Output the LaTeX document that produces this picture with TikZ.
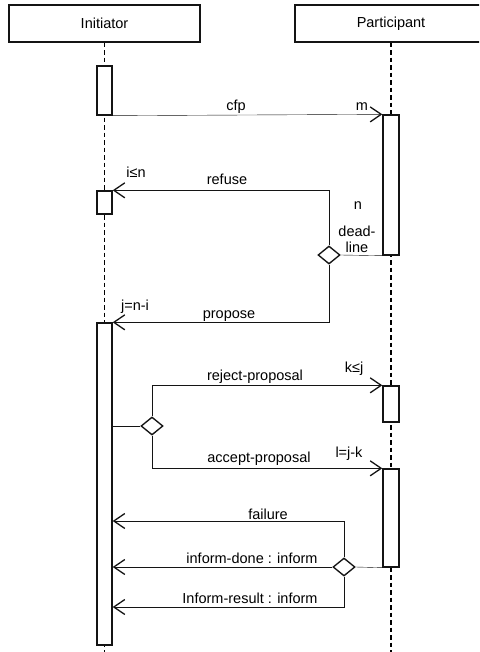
\documentclass[tikz,border=0pt]{standalone}
\usepackage{fontspec}
\setmainfont{Liberation Sans}
\usepackage{xcolor}
\definecolor{seqline}{rgb}{0.08, 0.08, 0.08}
\usepackage{tikz}
\usetikzlibrary{arrows.meta,shapes.geometric,backgrounds}

\begin{document}
\begin{tikzpicture}[x=1pt,y=-1pt,line width=1.35pt,draw=seqline,
  font=\fontsize{14.5}{16}\selectfont,
  head/.style={draw,fill=white,rectangle,minimum width=191pt,minimum height=37pt,inner sep=0pt},
  act/.style={draw,fill=white,rectangle,minimum width=15pt,inner sep=0pt},
  choice/.style={draw,fill=white,diamond,minimum width=22pt,minimum height=18pt,inner sep=0pt},
  msg/.style={-{Straight Barb[length=11pt,width=15pt,line width=1.3pt]}},
  lbl/.style={anchor=base,inner sep=0pt},
  life/.style={line width=1.1pt,dash pattern=on 4.5pt off 3pt}]
  \useasboundingbox (0,0) rectangle (479,652);
  \clip (0,0) rectangle (479,652);

  \node[head] (ini) at (104.5,23.5) {Initiator};
  \node[head,minimum width=192pt] (par) at (391,23.5) {Participant};

  % activations
  \node[act,minimum height=49pt] (iact1) at (104.5,90.5) {};
  \node[act,minimum height=23pt] (iact2) at (104.5,202.5) {};
  \node[act,minimum height=322pt] (iact3) at (104.5,484) {};
  \node[act,minimum width=16pt,minimum height=140pt] (pact1) at (391,185) {};
  \node[act,minimum width=16pt,minimum height=36pt] (pact2) at (391,404) {};
  \node[act,minimum width=16pt,minimum height=98pt] (pact3) at (391,518) {};

  \node[choice] (dl) at (329,255) {};
  \node[choice] (ans) at (152,426) {};
  \node[choice] (res) at (344,567) {};

  \coordinate (failend) at (iact3.east |- 0,521);
  \coordinate (resend) at (iact3.east |- 0,607);

  \begin{pgfonlayer}{background}
    \draw[life] (ini.south) -- (ini.south |- 0,652);
    \draw[life] (par.south -| pact1.center) -- (pact1.center |- 0,652);
  \end{pgfonlayer}

  \draw[msg] (iact1.south east) -- (pact1.north west);
  \draw[msg] (dl.north) |- (iact2.north east);
  \draw (pact1.south west) -- (dl.east);
  \draw[msg] (dl.south) |- (iact3.north east);

  \draw (iact3.east |- ans.west) -- (ans.west);
  \draw[msg] (ans.north) |- (pact2.north west);
  \draw[msg] (ans.south) |- (pact3.north west);

  \draw (pact3.south west) -- (res.east);
  \draw[msg] (res.north) |- (failend);
  \draw[msg] (res.west) -- (iact3.east |- res.west);
  \draw[msg] (res.south) |- (resend);

  % labels
  \node[lbl] (cfplbl) at (236,111) {cfp};
  \node[lbl] (mlbl) at (362,111) {m};
  \node[lbl] (ilbl) at (136,178) {i≤n};
  \node[lbl] (refuselbl) at (227,185) {refuse};
  \node[lbl] (nlbl) at (358,209) {n};
  \node[inner sep=0pt,align=center] (dllbl) at (357,239) {dead-\\line};
  \node[lbl] (jlbl) at (135,310) {j=n-i};
  \node[lbl] (proposelbl) at (229,318) {propose};
  \node[lbl] (klbl) at (354,372) {k≤j};
  \node[lbl] (rejectlbl) at (255,380) {reject-proposal};
  \node[lbl] (llbl) at (349,457) {l=j-k};
  \node[lbl] (acceptlbl) at (259,462) {accept-proposal};
  \node[lbl] (faillbl) at (268,519) {failure};
  \node[lbl] (donelbl) at (252,563) {inform-done : inform};
  \node[lbl] (resultlbl) at (250,603) {Inform-result : inform};
\end{tikzpicture}
\end{document}
